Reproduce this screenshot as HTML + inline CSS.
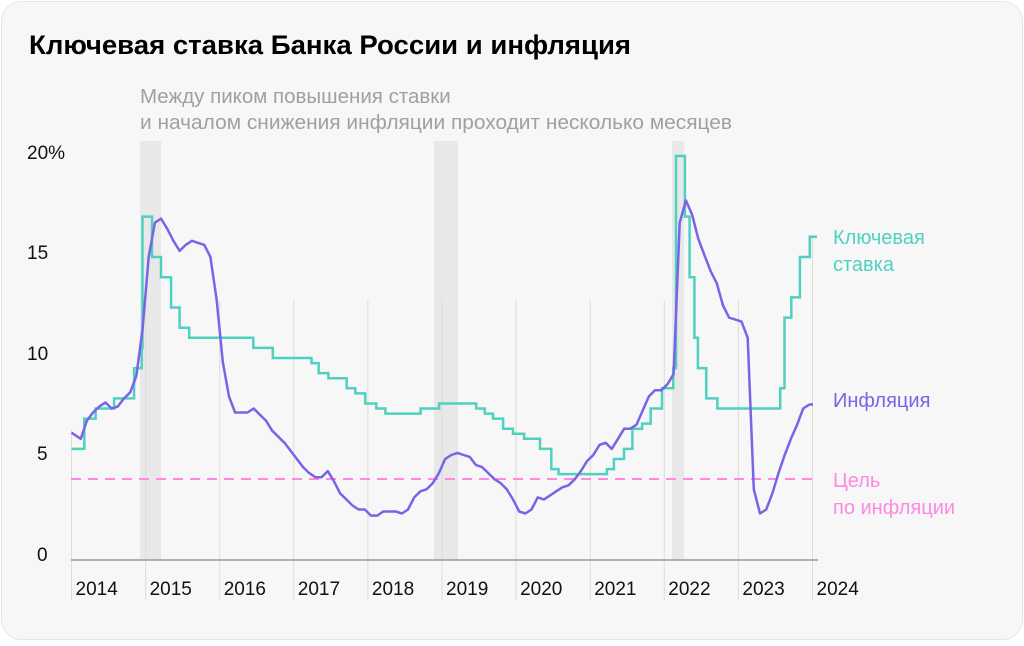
<!DOCTYPE html>
<html><head><meta charset="utf-8"><style>
html,body{margin:0;padding:0;background:#fff;}
body{width:1024px;height:641px;overflow:hidden;font-family:"Liberation Sans",sans-serif;}
</style></head><body>
<svg id="s" width="1024" height="641" xmlns="http://www.w3.org/2000/svg" font-family="Liberation Sans, sans-serif">
<rect x="1.5" y="1.5" width="1021" height="638" rx="20" fill="#f7f7f7" stroke="#e6e6e6"/>
<text x="29" y="54" font-size="27" font-weight="bold" fill="#000" textLength="602" lengthAdjust="spacingAndGlyphs">Ключевая ставка Банка России и инфляция</text>
<text x="140" y="103" font-size="20.5" fill="#a0a0a0">Между пиком повышения ставки</text>
<text x="140" y="129" font-size="20.5" fill="#a0a0a0" textLength="592" lengthAdjust="spacingAndGlyphs">и началом снижения инфляции проходит несколько месяцев</text>
<rect x="140" y="141" width="21" height="419" fill="#e8e8e8"/>
<rect x="434" y="141" width="24" height="419" fill="#e8e8e8"/>
<rect x="672" y="141" width="12" height="419" fill="#e8e8e8"/>
<g id="grid" stroke="#dcdcdc" stroke-width="1"></g>
<line x1="71" y1="560" x2="818" y2="560" stroke="#999" stroke-width="1.5"/>
<g font-size="19" fill="#111">
<text x="27" y="159">20%</text><text x="27" y="259">15</text><text x="27" y="360">10</text><text x="37" y="460">5</text><text x="37" y="561">0</text>
</g>
<g id="years" font-size="19" fill="#111"></g>
<line x1="71" y1="479" x2="818" y2="479" stroke="#ff88e0" stroke-width="2" stroke-dasharray="10,7"/>
<path id="rate" fill="none" stroke="#4fd1c1" stroke-width="2.5"/>
<path id="inf" fill="none" stroke="#7a63e6" stroke-width="2.5" stroke-linejoin="round"/>
<g font-size="20">
<text x="833" y="244" fill="#4fd1c1">Ключевая</text><text x="833" y="271" fill="#4fd1c1">ставка</text>
<text x="833" y="407" fill="#7a63e6">Инфляция</text>
<text x="833" y="487" fill="#ff88e0">Цель</text><text x="833" y="514" fill="#ff88e0">по инфляции</text>
</g>
</svg>
<script>
var X0=71.5,PY=74.1,Y0=560,K=20.2;
function xd(y,m,d){return X0+(y-2014+((m-1)+(d-1)/30)/12)*PY;}
function yv(v){return Y0-v*K;}
var g=document.getElementById('grid'),yr=document.getElementById('years'),ns='http://www.w3.org/2000/svg';
for(var i=0;i<=10;i++){var x=X0+i*PY;var l=document.createElementNS(ns,'line');l.setAttribute('x1',x);l.setAttribute('x2',x);l.setAttribute('y1',i==10?235:(i==0?430:300));l.setAttribute('y2',600);g.appendChild(l);
var t=document.createElementNS(ns,'text');t.setAttribute('x',x+4);t.setAttribute('y',595);t.textContent=2014+i;yr.appendChild(t);}
var r=[[2014,1,1,5.5],[2014,3,3,7],[2014,4,28,7.5],[2014,7,28,8],[2014,11,5,9.5],[2014,12,12,10.5],[2014,12,16,17],[2015,2,2,15],[2015,3,16,14],[2015,5,5,12.5],[2015,6,16,11.5],[2015,8,3,11],[2016,6,14,10.5],[2016,9,19,10],[2017,3,27,9.75],[2017,5,2,9.25],[2017,6,19,9],[2017,9,18,8.5],[2017,10,30,8.25],[2017,12,18,7.75],[2018,2,12,7.5],[2018,3,26,7.25],[2018,9,17,7.5],[2018,12,17,7.75],[2019,6,17,7.5],[2019,7,29,7.25],[2019,9,9,7],[2019,10,28,6.5],[2019,12,16,6.25],[2020,2,10,6],[2020,4,27,5.5],[2020,6,22,4.5],[2020,7,27,4.25],[2021,3,22,4.5],[2021,4,26,5],[2021,6,15,5.5],[2021,7,26,6.5],[2021,9,13,6.75],[2021,10,25,7.5],[2021,12,20,8.5],[2022,2,14,9.5],[2022,2,28,20],[2022,4,11,17],[2022,5,4,14],[2022,5,27,11],[2022,6,14,9.5],[2022,7,25,8],[2022,9,19,7.5],[2023,7,24,8.5],[2023,8,15,12],[2023,9,18,13],[2023,10,30,15],[2023,12,18,16]];
var d='M'+X0+','+yv(r[0][3]);
for(var i=1;i<r.length;i++){var x=xd(r[i][0],r[i][1],r[i][2]);d+=' H'+x.toFixed(1)+' V'+yv(r[i][3]).toFixed(1);}
d+=' H817';document.getElementById('rate').setAttribute('d',d);
var inf=[6.3,6.0,6.9,7.3,7.6,7.8,7.5,7.6,8.0,8.3,9.1,11.4,15.0,16.7,16.9,16.4,15.8,15.3,15.6,15.8,15.7,15.6,15.0,12.9,9.8,8.1,7.3,7.3,7.3,7.5,7.2,6.9,6.4,6.1,5.8,5.4,5.0,4.6,4.3,4.1,4.1,4.4,3.9,3.3,3.0,2.7,2.5,2.5,2.2,2.2,2.4,2.4,2.4,2.3,2.5,3.1,3.4,3.5,3.8,4.3,5.0,5.2,5.3,5.2,5.1,4.7,4.6,4.3,4.0,3.8,3.5,3.0,2.4,2.3,2.5,3.1,3.0,3.2,3.4,3.6,3.7,4.0,4.4,4.9,5.2,5.7,5.8,5.5,6.0,6.5,6.5,6.7,7.4,8.1,8.4,8.4,8.7,9.2,16.7,17.8,17.1,15.9,15.1,14.3,13.7,12.6,12.0,11.9,11.8,11.0,3.5,2.3,2.5,3.3,4.3,5.2,6.0,6.7,7.5,7.7];
var p='';for(var i=0;i<inf.length;i++){var x=i==0?X0:X0+(i+0.5)*PY/12;p+=(i?' L':'M')+x.toFixed(1)+','+yv(inf[i]).toFixed(1);}
p+=' L813,'+yv(7.7);document.getElementById('inf').setAttribute('d',p);
</script>
</body></html>
